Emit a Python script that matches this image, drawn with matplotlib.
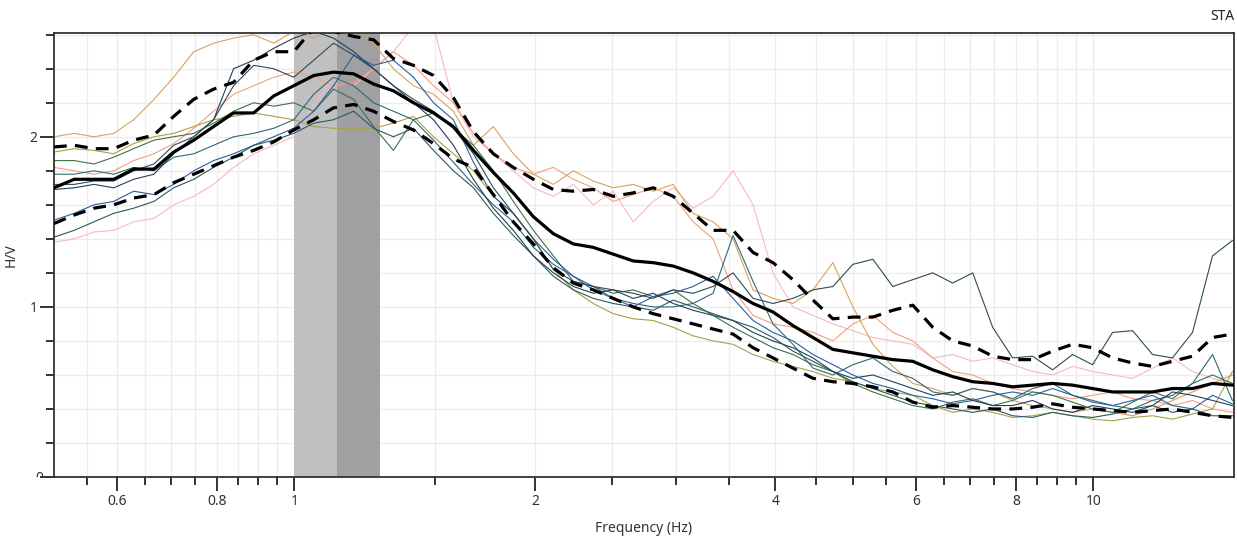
import matplotlib
matplotlib.use("Agg")
import matplotlib.pyplot as plt
import numpy as np
from matplotlib.patches import Rectangle
from matplotlib.ticker import FixedLocator, NullFormatter

plt.rcParams["font.family"] = ["Noto Sans", "DejaVu Sans"]

# Frequency samples (Hz), log spaced
freq = [0.500, 0.530, 0.561, 0.594, 0.629, 0.667, 0.706, 0.748, 0.792, 0.839,
        0.889, 0.942, 0.998, 1.057, 1.119, 1.186, 1.256, 1.330, 1.409, 1.493,
        1.581, 1.675, 1.774, 1.879, 1.991, 2.109, 2.234, 2.366, 2.506, 2.655,
        2.812, 2.979, 3.155, 3.342, 3.540, 3.750, 3.972, 4.207, 4.457, 4.721,
        5.000, 5.297, 5.610, 5.943, 6.295, 6.668, 7.063, 7.482, 7.925, 8.395,
        8.893, 9.420, 9.978, 10.57, 11.20, 11.86, 12.56, 13.31, 14.10, 14.93]

# Average H/V curve and +/- one standard deviation
hv_mean = [1.70, 1.75, 1.75, 1.75, 1.81, 1.81, 1.91, 1.98, 2.06, 2.14,
           2.14, 2.24, 2.30, 2.36, 2.38, 2.37, 2.31, 2.27, 2.20, 2.14,
           2.06, 1.92, 1.79, 1.67, 1.53, 1.43, 1.37, 1.35, 1.31, 1.27,
           1.26, 1.24, 1.20, 1.15, 1.09, 1.02, 0.97, 0.89, 0.82, 0.75,
           0.73, 0.71, 0.69, 0.68, 0.63, 0.59, 0.56, 0.55, 0.53, 0.54,
           0.55, 0.54, 0.52, 0.50, 0.50, 0.50, 0.52, 0.52, 0.55, 0.54]
hv_upper = [1.94, 1.95, 1.93, 1.93, 1.98, 2.01, 2.12, 2.22, 2.28, 2.32,
            2.45, 2.50, 2.50, 2.64, 2.62, 2.59, 2.57, 2.46, 2.42, 2.36,
            2.23, 2.03, 1.90, 1.82, 1.75, 1.69, 1.68, 1.69, 1.65, 1.67,
            1.70, 1.65, 1.55, 1.45, 1.45, 1.32, 1.26, 1.16, 1.04, 0.93,
            0.94, 0.94, 0.98, 1.01, 0.88, 0.80, 0.77, 0.71, 0.69, 0.69,
            0.74, 0.78, 0.76, 0.70, 0.67, 0.65, 0.68, 0.71, 0.82, 0.84]
hv_lower = [1.49, 1.54, 1.58, 1.60, 1.64, 1.66, 1.73, 1.78, 1.83, 1.88,
            1.92, 1.97, 2.04, 2.10, 2.17, 2.19, 2.15, 2.09, 2.04, 1.96,
            1.87, 1.82, 1.66, 1.50, 1.37, 1.23, 1.14, 1.10, 1.05, 1.00,
            0.96, 0.93, 0.90, 0.87, 0.84, 0.76, 0.70, 0.64, 0.58, 0.56,
            0.55, 0.53, 0.50, 0.44, 0.41, 0.42, 0.41, 0.40, 0.40, 0.41,
            0.43, 0.41, 0.40, 0.39, 0.38, 0.39, 0.40, 0.38, 0.36, 0.35]

# Individual window curves
win_orange = [2.00, 2.02, 2.00, 2.02, 2.10, 2.22, 2.35, 2.50, 2.55, 2.58,
              2.60, 2.55, 2.62, 2.58, 2.64, 2.66, 2.55, 2.40, 2.30, 2.25,
              2.15, 1.95, 2.06, 1.90, 1.78, 1.72, 1.80, 1.74, 1.70, 1.72,
              1.68, 1.72, 1.55, 1.50, 1.40, 1.10, 1.05, 1.02, 1.10, 1.26,
              1.00, 0.78, 0.65, 0.55, 0.52, 0.48, 0.52, 0.50, 0.45, 0.42,
              0.40, 0.38, 0.40, 0.38, 0.36, 0.40, 0.45, 0.50, 0.55, 0.60]
win_olive = [1.91, 1.93, 1.92, 1.90, 1.96, 2.00, 2.02, 2.06, 2.10, 2.12,
             2.14, 2.12, 2.10, 2.06, 2.05, 2.05, 2.05, 2.08, 2.12, 2.00,
             1.90, 1.80, 1.65, 1.55, 1.40, 1.22, 1.10, 1.02, 0.96, 0.93,
             0.92, 0.88, 0.83, 0.80, 0.78, 0.72, 0.68, 0.65, 0.62, 0.58,
             0.56, 0.52, 0.50, 0.48, 0.42, 0.38, 0.40, 0.38, 0.35, 0.36,
             0.38, 0.36, 0.34, 0.33, 0.35, 0.36, 0.34, 0.37, 0.40, 0.62]
win_green = [1.86, 1.86, 1.84, 1.88, 1.93, 1.98, 2.00, 2.02, 2.08, 2.15,
             2.20, 2.18, 2.20, 2.15, 2.28, 2.22, 2.06, 1.92, 2.10, 2.14,
             2.05, 1.95, 1.80, 1.62, 1.45, 1.30, 1.15, 1.12, 1.08, 1.10,
             1.06, 1.10, 1.02, 0.95, 0.88, 0.82, 0.76, 0.72, 0.66, 0.62,
             0.55, 0.50, 0.46, 0.42, 0.40, 0.44, 0.46, 0.42, 0.45, 0.50,
             0.48, 0.44, 0.40, 0.38, 0.44, 0.50, 0.46, 0.55, 0.60, 0.55]
win_salmon = [1.82, 1.80, 1.78, 1.80, 1.86, 1.90, 1.96, 2.05, 2.15, 2.25,
              2.30, 2.35, 2.38, 2.35, 2.30, 2.32, 2.40, 2.50, 2.42, 2.30,
              2.20, 2.02, 1.90, 1.82, 1.78, 1.82, 1.75, 1.70, 1.62, 1.66,
              1.70, 1.65, 1.50, 1.40, 1.10, 0.95, 0.90, 0.88, 0.85, 0.80,
              0.90, 0.95, 0.85, 0.80, 0.70, 0.62, 0.60, 0.55, 0.52, 0.50,
              0.48, 0.46, 0.48, 0.50, 0.46, 0.45, 0.42, 0.45, 0.40, 0.38]
win_teal = [1.78, 1.78, 1.80, 1.78, 1.82, 1.80, 1.88, 1.90, 1.95, 2.00,
            2.02, 2.05, 2.10, 2.25, 2.35, 2.30, 2.20, 2.15, 2.10, 1.98,
            1.85, 1.72, 1.60, 1.50, 1.35, 1.25, 1.18, 1.12, 1.05, 1.02,
            1.00, 1.00, 1.02, 1.08, 1.42, 1.15, 0.90, 0.78, 0.64, 0.60,
            0.66, 0.70, 0.62, 0.58, 0.50, 0.48, 0.52, 0.50, 0.46, 0.52,
            0.55, 0.48, 0.45, 0.42, 0.40, 0.45, 0.48, 0.55, 0.72, 0.45]
win_slate = [1.72, 1.72, 1.74, 1.74, 1.80, 1.84, 1.95, 2.00, 2.10, 2.30,
             2.42, 2.40, 2.35, 2.45, 2.55, 2.48, 2.40, 2.30, 2.22, 2.15,
             2.05, 1.90, 1.70, 1.55, 1.40, 1.22, 1.15, 1.12, 1.10, 1.08,
             1.05, 1.10, 1.08, 1.12, 1.20, 1.05, 1.02, 1.05, 1.10, 1.12,
             1.25, 1.28, 1.12, 1.16, 1.20, 1.14, 1.20, 0.88, 0.70, 0.71,
             0.63, 0.72, 0.66, 0.85, 0.86, 0.72, 0.70, 0.85, 1.30, 1.39]
win_navy = [1.69, 1.70, 1.72, 1.70, 1.75, 1.78, 1.90, 2.00, 2.10, 2.40,
            2.45, 2.52, 2.58, 2.62, 2.58, 2.50, 2.40, 2.30, 2.20, 2.10,
            1.95, 1.75, 1.58, 1.45, 1.30, 1.20, 1.12, 1.08, 1.10, 1.05,
            1.08, 1.02, 0.98, 0.95, 0.92, 0.85, 0.80, 0.76, 0.70, 0.62,
            0.58, 0.60, 0.56, 0.52, 0.48, 0.50, 0.45, 0.42, 0.42, 0.45,
            0.40, 0.38, 0.42, 0.40, 0.38, 0.42, 0.50, 0.48, 0.45, 0.42]
win_blue = [1.51, 1.55, 1.60, 1.62, 1.68, 1.66, 1.72, 1.80, 1.86, 1.90,
            1.95, 2.00, 2.05, 2.15, 2.30, 2.48, 2.42, 2.45, 2.35, 2.20,
            2.10, 1.85, 1.65, 1.55, 1.40, 1.28, 1.18, 1.10, 1.05, 1.00,
            1.06, 1.08, 1.12, 1.18, 1.05, 0.92, 0.85, 0.80, 0.72, 0.66,
            0.60, 0.55, 0.52, 0.48, 0.46, 0.43, 0.45, 0.48, 0.50, 0.48,
            0.52, 0.48, 0.44, 0.42, 0.45, 0.48, 0.42, 0.40, 0.48, 0.43]
win_darkteal = [1.41, 1.45, 1.50, 1.55, 1.58, 1.62, 1.70, 1.75, 1.82, 1.88,
                1.95, 1.98, 2.02, 2.08, 2.10, 2.15, 2.05, 2.00, 2.05, 1.92,
                1.80, 1.70, 1.55, 1.42, 1.30, 1.18, 1.10, 1.05, 1.02, 1.00,
                0.98, 1.04, 1.00, 0.96, 0.92, 0.88, 0.82, 0.74, 0.68, 0.62,
                0.56, 0.52, 0.48, 0.44, 0.42, 0.40, 0.38, 0.40, 0.36, 0.35,
                0.38, 0.36, 0.35, 0.37, 0.40, 0.42, 0.38, 0.40, 0.36, 0.36]
win_pink = [1.38, 1.40, 1.44, 1.45, 1.50, 1.52, 1.60, 1.65, 1.72, 1.82,
            1.90, 1.95, 2.00, 2.18, 2.35, 2.30, 2.40, 2.50, 2.65, 2.65,
            2.20, 2.00, 1.90, 1.80, 1.70, 1.65, 1.72, 1.60, 1.68, 1.50,
            1.62, 1.70, 1.58, 1.65, 1.80, 1.60, 1.20, 1.00, 0.95, 0.90,
            0.86, 0.82, 0.80, 0.78, 0.70, 0.72, 0.68, 0.70, 0.66, 0.62,
            0.60, 0.65, 0.62, 0.60, 0.58, 0.64, 0.70, 0.62, 0.58, 0.55]

windows = [
    (win_pink, "#f6b8c8"),
    (win_salmon, "#f2a080"),
    (win_orange, "#d9a25e"),
    (win_olive, "#a9a048"),
    (win_green, "#3f7048"),
    (win_teal, "#2d6a75"),
    (win_blue, "#2a5f9e"),
    (win_darkteal, "#2b5a5e"),
    (win_navy, "#23405a"),
    (win_slate, "#2e4a57"),
]

# Peak frequency and its spread
f0 = 1.13
f0_lo = 1.00
f0_hi = 1.28

x_major = [0.6, 0.8, 1, 2, 4, 6, 8, 10]
x_minor = [0.55, 0.65, 0.7, 0.75, 0.85, 0.9, 0.95, 1.5, 2.5, 3, 3.5,
           4.5, 5, 5.5, 6.5, 7, 7.5, 8.5, 9, 9.5]

fig = plt.figure(figsize=(12.37, 5.40), dpi=100)
ax = fig.add_axes([54 / 1237, 63 / 540, 1180 / 1237, 444 / 540])

ax.axvspan(f0_lo, f0, color="#c0c0c0", lw=0, zorder=1)
ax.axvspan(f0, f0_hi, color="#a0a0a2", lw=0, zorder=1)

for vals, col in windows:
    ax.plot(freq, vals, color=col, lw=0.8, zorder=2)

ax.plot(freq, hv_mean, color="black", lw=2.3, zorder=4)
ax.plot(freq, hv_upper, color="black", lw=2.3, dashes=(4, 2.6), zorder=4)
ax.plot(freq, hv_lower, color="black", lw=2.3, dashes=(4, 2.6), zorder=4)

ax.set_xscale("log")
ax.set_xlim(0.5, 15)
ax.set_ylim(0, 2.61)

ax.xaxis.set_major_locator(FixedLocator(x_major))
ax.xaxis.set_minor_locator(FixedLocator(x_minor))
ax.set_xticklabels([f"{v:g}" for v in x_major])
ax.xaxis.set_minor_formatter(NullFormatter())

ax.set_yticks([0, 1, 2])
ax.set_yticklabels(["", "1", "2"])
ax.set_yticks(np.arange(0.2, 2.61, 0.2), minor=True)

ax.grid(True, which="both", color="#ececec", lw=1.0, zorder=0)
ax.set_axisbelow(True)

ax.tick_params(which="major", length=10, width=1.4, color="#333333",
               labelsize=10, labelcolor="#333333", pad=2)
ax.tick_params(which="minor", length=6, width=1.4, color="#333333")
for sp in ax.spines.values():
    sp.set_color("#333333")
    sp.set_linewidth(1.3)

ax.set_xlabel("Frequency (Hz)", fontsize=10, color="#333333", labelpad=9)
ax.set_ylabel("H/V", fontsize=10, color="#333333", labelpad=8)

# zero label sits on the axis and is cut by it
zero = fig.text(39 / 1237, 1 - 479 / 540, "0", fontsize=10, color="#333333",
                ha="center", va="center", clip_on=True)
zero.set_clip_path(Rectangle((0, 1 - 477 / 540), 1, 1, transform=fig.transFigure))

fig.text(1234 / 1237, 1 - 16 / 540, "STA", fontsize=10, color="#222222",
         ha="right", va="center")

fig.savefig("out.png", dpi=100)
